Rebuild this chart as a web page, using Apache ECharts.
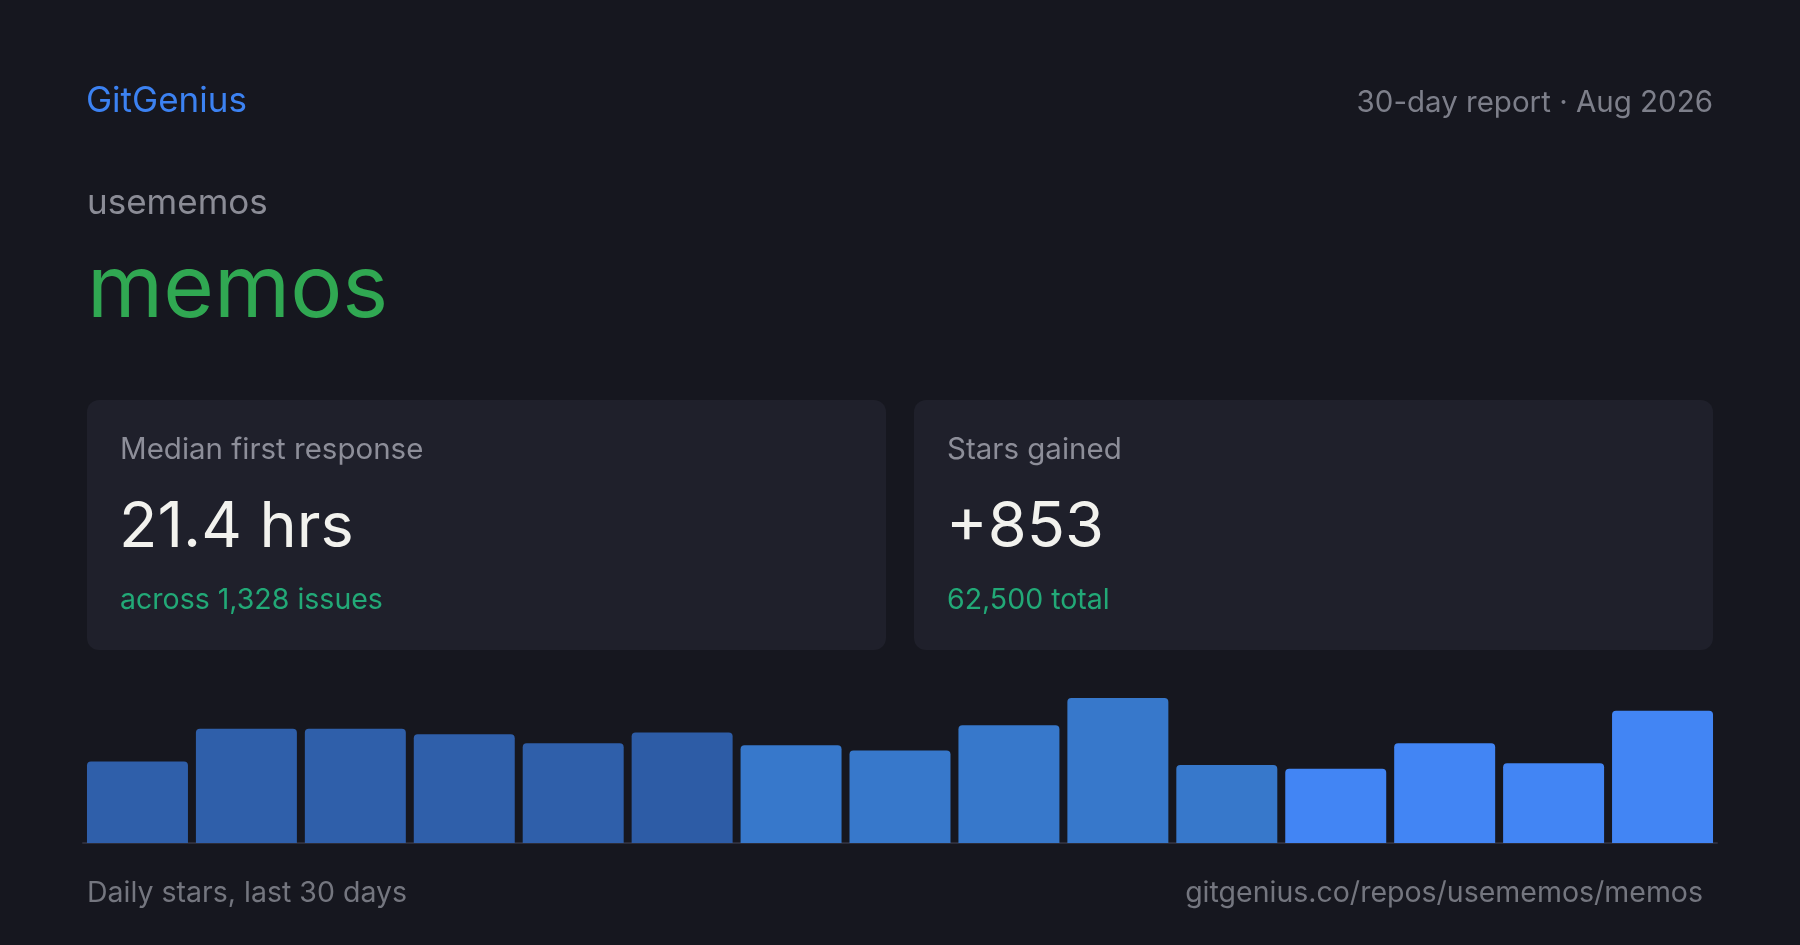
<!DOCTYPE html>
<html>
<head>
<meta charset="utf-8">
<script src="https://cdn.jsdelivr.net/npm/echarts@6/dist/echarts.min.js"></script>
<style>
html,body{margin:0;padding:0;background:#16171f;}
#chart{width:1800px;height:945px;}
</style>
</head>
<body>
<div id="chart"></div>
<script>
// ---- data ----
const brand = 'GitGenius';
const reportLabel = '30-day report · Aug 2026';
const owner = 'usememos';
const repo = 'memos';
const statLabels = ['Median first response', 'Stars gained'];
const statValues = ['21.4 hrs', '+853'];
const statNotes = ['across 1,328 issues', '62,500 total'];
const dayBuckets = ['1','2','3','4','5','6','7','8','9','10','11','12','13','14','15'];
const dailyStars = [45, 63, 63, 60, 55, 61, 54, 51, 65, 80, 43, 41, 55, 44, 73];
const footerLeft = 'Daily stars, last 30 days';
const footerRight = 'gitgenius.co/repos/usememos/memos';

// ---- styles ----
const barColors = ['#2f5faa','#2f5faa','#2f5faa','#2f5faa','#2f5faa','#2d5ca6',
                   '#3778cb','#3778cb','#3778cb','#3778cb','#3778cb',
                   '#4285f4','#4285f4','#4285f4','#4285f4'];
const FONT = 'Inter, "Liberation Sans", Arial, sans-serif';

const chart = echarts.init(document.getElementById('chart'));

// y = baseline - 0.3635 * size (canvas "middle" for Inter)
function txt(x, baseline, text, size, color, align) {
  return {
    type: 'text', x: x, y: baseline - 0.3635 * size, silent: true,
    style: { text: text, fontFamily: FONT, fontSize: size, fill: color,
             align: align || 'left', verticalAlign: 'middle' }
  };
}

const cards = [87, 914];
const graphics = [
  txt(86, 114.5, brand, 35, '#3c82f2'),
  txt(1713, 113.5, reportLabel, 29.5, '#7d7f8a', 'right'),
  txt(87, 216, owner, 35, '#8b8c96'),
  txt(87, 322.5, repo, 87, '#30a852'),
  txt(87, 903.5, footerLeft, 28.5, '#74767f'),
  txt(1703, 903.5, footerRight, 28.5, '#74767f', 'right')
];
cards.forEach(function (cx, i) {
  graphics.push({
    type: 'rect', silent: true, z: -1,
    shape: { x: cx, y: 400, width: 799, height: 250, r: 12 },
    style: { fill: '#1f202b' }
  });
  graphics.push(txt(cx + 33, 461, statLabels[i], 29.5, '#8d8e99'));
  graphics.push(txt(cx + 32, 551, statValues[i], 63, '#f2f2ee'));
  graphics.push(txt(cx + 33, 611, statNotes[i], 28.5, '#22a977'));
});

chart.setOption({
  backgroundColor: '#16171f',
  animation: false,
  graphic: graphics,
  grid: { left: 83, right: 83, top: 698, bottom: 102, containLabel: false },
  xAxis: {
    type: 'category', data: dayBuckets, boundaryGap: true,
    axisLine: { show: true, lineStyle: { color: '#2c2d3a', width: 2 } },
    axisTick: { show: false }, axisLabel: { show: false }, splitLine: { show: false }
  },
  yAxis: {
    type: 'value', min: 0, max: 80, show: false, splitLine: { show: false }
  },
  series: [{
    type: 'bar',
    data: dailyStars,
    barCategoryGap: '7.3%',
    itemStyle: {
      borderRadius: [4, 4, 0, 0],
      color: function (p) { return barColors[p.dataIndex]; }
    }
  }]
});
</script>
</body>
</html>
